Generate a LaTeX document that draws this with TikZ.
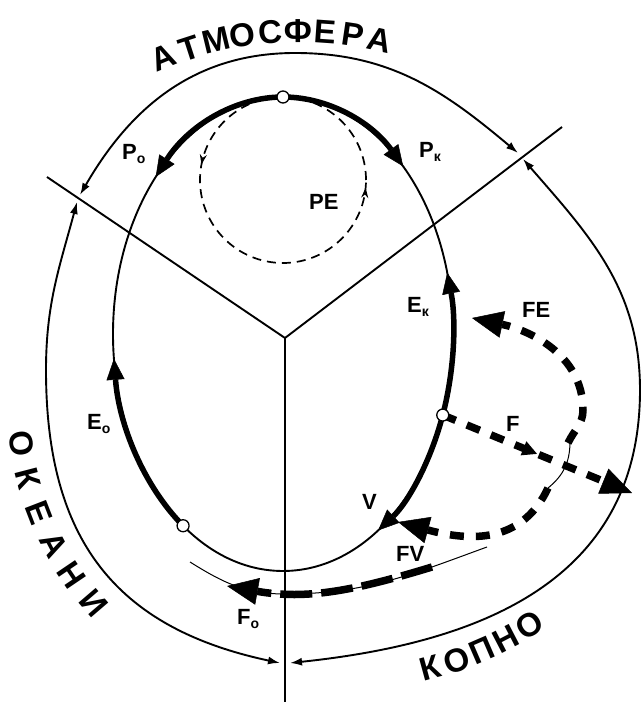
\documentclass[tikz,border=0pt]{standalone}
\usepackage{fontspec}
\setmainfont{Liberation Sans}
\setsansfont{Liberation Sans}
\usetikzlibrary{arrows.meta,calc,decorations.markings}
\newcommand{\idx}[1]{\raisebox{-0.3ex}{\fontsize{14}{14}\selectfont#1}}

\begin{document}
\begin{tikzpicture}[x=1pt, y=1pt]
  \tikzset{
    thinln/.style={line width=1.9pt},
    hairln/.style={line width=1pt},
    flowln/.style={line width=5.5pt},
    fluxln/.style={line width=7.5pt, dash pattern=on 14pt off 12pt},
    longflux/.style={line width=7.5pt, dash pattern=on 32pt off 9pt},
    flowtip/.style={-{Triangle[length=21pt,width=18pt,line width=0.5pt]}},
    fluxtip/.style={-{Triangle[length=31pt,width=27pt,line width=0.5pt]}},
    twoway/.style={{Latex[length=12pt,width=8pt]}-{Latex[length=12pt,width=8pt]}},
    junc/.style={circle, draw, line width=1.3pt, fill=white, inner sep=0pt, minimum size=12pt},
    lbl/.style={font=\bfseries\fontsize{22}{22}\selectfont, inner sep=0pt, anchor=base west},
    bigword/.style={font=\fontsize{33}{33}\selectfont\bfseries, inner sep=0pt,
                    text height=24pt, text depth=0pt},
  }
  \useasboundingbox (0,0) rectangle (642,702);

  % boundaries
  \coordinate (J) at (285,364);
  \coordinate (L) at (47,525);
  \coordinate (R) at (562,575);
  \coordinate (B) at (285,0);
  \draw[thinln] (L) -- (J) -- (R) (J) -- (B);

  % outer exchange loop
  \coordinate (atmL) at (80,507);
  \coordinate (atmT) at (295,649);
  \coordinate (atmR) at (518,549);
  \coordinate (ocT) at (77,500);
  \coordinate (ocW) at (46,332);
  \coordinate (ocB) at (280,39);
  \coordinate (kB) at (290,39);
  \coordinate (kE) at (640,312);
  \coordinate (kR) at (523,543);
  \draw[thinln, twoway] (atmL) to[out=60,in=180] (atmT) to[out=0,in=140] (atmR);
  \draw[thinln, twoway] (ocT) to[out=255,in=90] (ocW) to[out=270,in=168,looseness=1.15] (ocB);
  \draw[thinln, twoway] (kB) to[out=6,in=270,looseness=1.1] (kE) to[out=90,in=-49] (kR);

  % water cycle
  \coordinate (O) at (283,368);
  \coordinate (top) at ($(O)+(90:170 and 237)$);
  \coordinate (Fpt) at ($(O)+(-20:170 and 237)$);
  \coordinate (Eopt) at ($(O)+(-126:170 and 237)$);
  \draw[thinln] (O) ellipse [x radius=170, y radius=237];
  \draw[flowln, flowtip] (top) arc[start angle=90, end angle=138.5, x radius=170, y radius=237];
  \draw[flowln, flowtip] (top) arc[start angle=90, end angle=45, x radius=170, y radius=237];
  \draw[flowln, flowtip] (Fpt) arc[start angle=-20, end angle=15, x radius=170, y radius=237];
  \draw[flowln, flowtip] (Fpt) arc[start angle=-20, end angle=-56, x radius=170, y radius=237];
  \draw[flowln, flowtip] (Eopt) arc[start angle=-126, end angle=-174, x radius=170, y radius=237];

  % PE
  \coordinate (PEc) at (283,522);
  \draw[line width=1.7pt, dash pattern=on 9pt off 6pt, postaction={decorate},
        decoration={markings,
          mark=at position 0.47 with {\arrow{Stealth[length=10pt,width=7pt]}},
          mark=at position 0.985 with {\arrow{Stealth[length=10pt,width=7pt]}}}]
    (PEc) circle[radius=83];

  % fluxes
  \coordinate (Ftip) at (632,209);
  \coordinate (feS) at (568,259);
  \coordinate (feR) at (583,292);
  \coordinate (feT) at (472,384);
  \coordinate (spA) at (570,259);
  \coordinate (spB) at (548,214);
  \coordinate (fvT) at (398,180);
  \coordinate (foL) at (190,140);
  \coordinate (foM) at (285,108);
  \coordinate (foR) at (487,155);
  \coordinate (foD) at (432,135);
  \coordinate (foTip) at (227,116);
  \draw[fluxln, fluxtip, postaction={decorate},
        decoration={markings, mark=at position 0.5 with {\arrow{Triangle[length=15pt,width=14pt]}}}]
    (Fpt) -- (Ftip);
  \draw[fluxln, fluxtip] (feS) to[out=65,in=270] (feR) to[out=90,in=-12] (feT);
  \draw[hairln] (spA) to[bend left=25] (spB);
  \draw[fluxln, fluxtip] (spB) to[out=245,in=-15,looseness=1.1] (fvT);
  \draw[hairln] (foL) to[out=-32,in=180] (foM) to[out=0,in=200] (foR);
  \draw[longflux, fluxtip] (foD) to[out=197,in=-10] (foTip);

  \node[junc] (ctop) at (top) {};
  \node[junc] (cF) at (Fpt) {};
  \node[junc] (cEo) at (Eopt) {};

  % labels
  \node[lbl] (Po) at (122,542) {P\idx{о}};
  \node[lbl] (Pk) at (419,544) {P\idx{к}};
  \node[lbl] (PE) at (309,492) {PE};
  \node[lbl] (Ek) at (407,389) {E\idx{к}};
  \node[lbl] (FE) at (522,384) {FE};
  \node[lbl] (F) at (506,270) {F};
  \node[lbl] (Eo) at (87,272) {E\idx{о}};
  \node[lbl] (V) at (362,192) {V};
  \node[lbl] (FV) at (396,140) {FV};
  \node[lbl] (Fo) at (237,77) {F\idx{о}};

  % spheres
  \coordinate (atmC) at (300,311);
  \coordinate (ocC) at (330,302);
  \coordinate (kC) at (330,402);
  \foreach \ch [count=\i] in {А,Т,М,О,С,Ф,Е,Р,А}{
    \pgfmathsetmacro{\ang}{112.3-4.39*(\i-1)}
    \node[bigword, rotate=\ang-90] (atm\i) at ($(atmC)+(\ang:361)$) {\ch};
  }
  \foreach \ch [count=\i] in {О,К,Е,А,Н,И}{
    \pgfmathsetmacro{\ang}{188.1+6.5*(\i-1)}
    \node[bigword, rotate=\ang+90] (oc\i) at ($(ocC)+(\ang:311)$) {\ch};
  }
  \foreach \ch [count=\i] in {К,О,П,Н,О}{
    \pgfmathsetmacro{\ang}{-74.7+4.05*(\i-1)}
    \node[bigword, rotate=\ang+90] (k\i) at ($(kC)+(\ang:381)$) {\ch};
  }
\end{tikzpicture}
\end{document}
